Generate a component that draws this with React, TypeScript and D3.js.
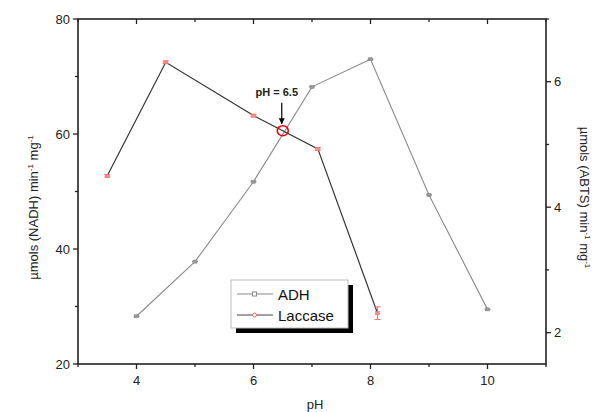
import React from "react";
import * as d3 from "d3";

// ADH activity (left axis, NADH)
const adhPH = [4, 5, 6, 7, 8, 9, 10];
const adhValues = [28.3, 37.8, 51.7, 68.2, 73.0, 49.4, 29.5];

// Laccase activity (right axis, ABTS)
const laccasePH = [3.5, 4.5, 6, 7.1, 8.12];
const laccaseValues = [4.5, 6.31, 5.46, 4.93, 2.31];
const laccaseErr = [0.02, 0.02, 0.02, 0.02, 0.1];

const xTicks = [4, 6, 8, 10];
const xMinor = [3, 5, 7, 9, 11];
const leftTicks = [20, 40, 60, 80];
const leftMinor = [30, 50, 70];
const rightTicks = [2, 4, 6];
const rightMinor = [3, 5, 7];

const optimumPH = 6.5;
const seriesNames = ["ADH", "Laccase"];

const W = 595;
const H = 412;
const m = { left: 78, right: 49, top: 19, bottom: 48 };

const App = () => {
  const x = d3.scaleLinear().domain([3, 11]).range([m.left, W - m.right]);
  const yL = d3.scaleLinear().domain([20, 80]).range([H - m.bottom, m.top]);
  const yR = d3.scaleLinear().domain([1.5, 7]).range([H - m.bottom, m.top]);

  const adhPts: [number, number][] = adhPH.map((p, i) => [x(p), yL(adhValues[i])]);
  const lacPts: [number, number][] = laccasePH.map((p, i) => [x(p), yR(laccaseValues[i])]);
  const line = d3.line();

  const x0 = x.range()[0];
  const x1 = x.range()[1];
  const y0 = yL.range()[0];
  const y1 = yL.range()[1];
  const font = "Arial, 'Liberation Sans', sans-serif";

  // intersection marker at optimum pH, on the laccase line
  const oi = laccasePH.findIndex((p) => p > optimumPH);
  const t = (optimumPH - laccasePH[oi - 1]) / (laccasePH[oi] - laccasePH[oi - 1]);
  const oy = lacPts[oi - 1][1] + t * (lacPts[oi][1] - lacPts[oi - 1][1]);
  const ox = x(optimumPH);

  const lx = 231;
  const ly = 280;
  const lw = 117;
  const lh = 48;

  return (
    <svg width={W} height={H} style={{ position: "absolute", left: 0, top: 0, background: "#fff" }}>
      <defs>
        <marker id="arr" viewBox="0 0 10 10" refX="9" refY="5" markerWidth="5" markerHeight="7" orient="auto">
          <path d="M0,0 L10,5 L0,10 z" fill="#000" />
        </marker>
      </defs>
      <g fontFamily={font} fill="#222">
        {/* frame */}
        <rect x={x0} y={y1} width={x1 - x0} height={y0 - y1} fill="none" stroke="#222" strokeWidth={1.6} />
        {/* x ticks */}
        {xTicks.map((v) => (
          <g key={"x" + v}>
            <line x1={x(v)} x2={x(v)} y1={y0} y2={y0 + 5} stroke="#222" strokeWidth={1.3} />
            <line x1={x(v)} x2={x(v)} y1={y1} y2={y1 + 5} stroke="#222" strokeWidth={1.3} />
            <text x={x(v)} y={y0 + 21} textAnchor="middle" fontSize={13}>{v}</text>
          </g>
        ))}
        {xMinor.map((v) => (
          <g key={"xm" + v}>
            <line x1={x(v)} x2={x(v)} y1={y0} y2={y0 + 3} stroke="#222" strokeWidth={1.3} />
            <line x1={x(v)} x2={x(v)} y1={y1} y2={y1 + 3} stroke="#222" strokeWidth={1.3} />
          </g>
        ))}
        {/* left ticks */}
        {leftTicks.map((v) => (
          <g key={"l" + v}>
            <line x1={x0 - 5} x2={x0} y1={yL(v)} y2={yL(v)} stroke="#222" strokeWidth={1.3} />
            <text x={x0 - 8} y={yL(v) + 4.5} textAnchor="end" fontSize={13}>{v}</text>
          </g>
        ))}
        {leftMinor.map((v) => (
          <line key={"lm" + v} x1={x0 - 3} x2={x0} y1={yL(v)} y2={yL(v)} stroke="#222" strokeWidth={1.3} />
        ))}
        {/* right ticks */}
        {rightTicks.map((v) => (
          <g key={"r" + v}>
            <line x1={x1} x2={x1 + 5} y1={yR(v)} y2={yR(v)} stroke="#222" strokeWidth={1.3} />
            <text x={x1 + 8} y={yR(v) + 4.5} textAnchor="start" fontSize={13}>{v}</text>
          </g>
        ))}
        {rightMinor.map((v) => (
          <line key={"rm" + v} x1={x1} x2={x1 + 3} y1={yR(v)} y2={yR(v)} stroke="#222" strokeWidth={1.3} />
        ))}

        {/* axis titles */}
        <text x={(x0 + x1) / 2 + 3} y={H - 3} textAnchor="middle" fontSize={13}>pH</text>
        <text transform={`translate(38,${(y0 + y1) / 2 + 16}) rotate(-90)`} textAnchor="middle" fontSize={13}>
          µmols (NADH) min<tspan dy={-5} fontSize={8}>-1</tspan>
          <tspan dy={5}> mg</tspan>
          <tspan dy={-5} fontSize={8}>-1</tspan>
        </text>
        <text transform={`translate(580,${(y0 + y1) / 2 + 6}) rotate(90)`} textAnchor="middle" fontSize={13}>
          µmols (ABTS) min<tspan dy={-5} fontSize={8}>-1</tspan>
          <tspan dy={5}> mg</tspan>
          <tspan dy={-5} fontSize={8}>-1</tspan>
        </text>

        {/* ADH series */}
        <path d={line(adhPts) ?? ""} fill="none" stroke="#8a8a8a" strokeWidth={1.1} />
        {adhPts.map(([px, py], i) => (
          <g key={"a" + i}>
            <line x1={px - 3} x2={px + 3} y1={py} y2={py} stroke="#777" strokeWidth={1} />
            <rect x={px - 2} y={py - 1.5} width={4} height={3} fill="#999" stroke="#888" strokeWidth={0.6} />
          </g>
        ))}

        {/* Laccase series */}
        <path d={line(lacPts) ?? ""} fill="none" stroke="#333" strokeWidth={1.2} />
        {lacPts.map(([px, py], i) => {
          const e1 = yR(laccaseValues[i] + laccaseErr[i]);
          const e2 = yR(laccaseValues[i] - laccaseErr[i]);
          return (
            <g key={"c" + i} stroke="#ff6a6a" strokeWidth={1}>
              <line x1={px} x2={px} y1={e1} y2={e2} />
              <line x1={px - 3} x2={px + 3} y1={e1} y2={e1} />
              <line x1={px - 3} x2={px + 3} y1={e2} y2={e2} />
              <rect x={px - 2} y={py - 1.5} width={4} height={3} fill="#ff8a8a" strokeWidth={0.6} />
            </g>
          );
        })}

        {/* optimum annotation */}
        <ellipse cx={ox} cy={oy} rx={5.5} ry={5} fill="none" stroke="#e00" strokeWidth={1.6} />
        <line x1={ox - 1} x2={ox - 1} y1={oy - 28} y2={oy - 7} stroke="#000" strokeWidth={1.2} markerEnd="url(#arr)" />
        <text x={ox - 6} y={oy - 35} textAnchor="middle" fontSize={11} fontWeight="bold">pH = {optimumPH}</text>

        {/* legend */}
        <rect x={lx + 5} y={ly + 5} width={lw} height={lh} fill="#000" />
        <rect x={lx} y={ly} width={lw} height={lh} fill="#fff" stroke="#bbb" strokeWidth={1} />
        {seriesNames.map((name, i) => {
          const yy = ly + 14 + i * 21;
          const col = i === 0 ? "#888" : "#444";
          const mk = i === 0 ? "#888" : "#ff6a6a";
          return (
            <g key={name}>
              <line x1={lx + 6} x2={lx + 42} y1={yy} y2={yy} stroke={col} strokeWidth={1.1} />
              {i === 0 ? (
                <rect x={lx + 21.5} y={yy - 2} width={4} height={4} fill="#fff" stroke={mk} strokeWidth={1} />
              ) : (
                <circle cx={lx + 23.5} cy={yy} r={2} fill="#fff" stroke={mk} strokeWidth={1} />
              )}
              <text x={lx + 47} y={yy + 5.5} fontSize={15} fill="#111">{name}</text>
            </g>
          );
        })}
      </g>
    </svg>
  );
};

export default App;
